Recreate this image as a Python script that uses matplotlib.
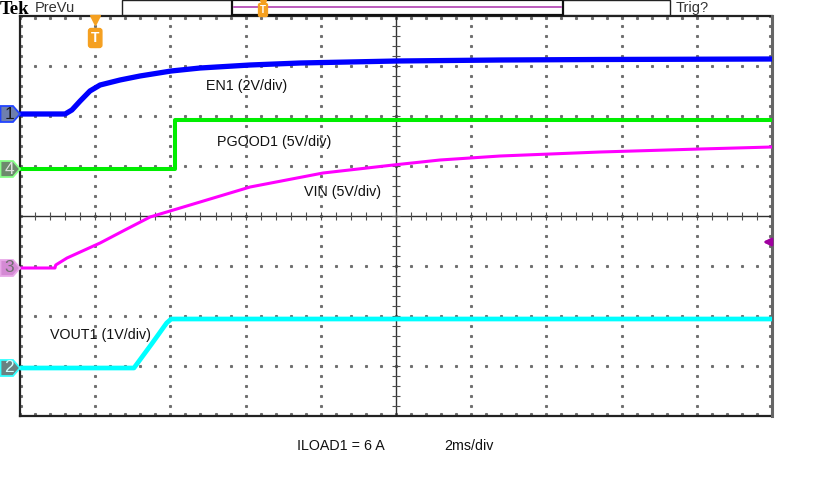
import numpy as np
import matplotlib.pyplot as plt
from matplotlib.patches import Rectangle, Polygon
from matplotlib.lines import Line2D

# 時間軸 (ms)、トリガは t=0
en1_t = [-2.0, -0.80, -0.62, -0.40, -0.14, 0.13, 0.66, 1.19, 2.02, 2.79, 4.12, 5.45, 8.03, 10.77, 13.43, 18.0]
en1_v = [0.0, 0.0, 0.16, 0.52, 0.92, 1.16, 1.36, 1.52, 1.72, 1.84, 1.96, 2.04, 2.12, 2.16, 2.18, 2.20]

pgood_t = [-2.0, 2.12, 2.12, 18.0]
pgood_v = [0.0, 0.0, 4.9, 4.9]

vin_t = [-2.0, -1.07, -1.05, -0.75, 0.13, 0.79, 1.46, 2.79, 4.12, 6.06, 7.93, 9.17, 10.77, 13.43, 16.09, 18.0]
vin_v = [0.0, 0.0, 0.3, 1.0, 2.5, 3.8, 5.1, 6.6, 8.1, 9.5, 10.3, 10.8, 11.2, 11.6, 11.9, 12.1]

vout_t = [-2.0, 1.03, 1.50, 1.90, 2.02, 18.0]
vout_v = [0.0, 0.0, 0.48, 0.90, 0.98, 0.98]

# チャンネル位置 (div) と V/div
ch_pos = {'1': 2.04, '4': 0.94, '3': -1.04, '2': -3.04}
ch_scale = {'1': 2.0, '4': 5.0, '3': 5.0, '2': 1.0}
trig_level = 2.6  # VIN

labels = ["EN1 (2V/div)", "PGOOD1 (5V/div)", "VIN (5V/div)", "VOUT1 (1V/div)"]
footer = ["ILOAD1 = 6 A", "2ms/div"]

W, H = 820, 504


def fx(x):
    return x / W


def fy(y):
    return 1 - y / H


fig = plt.figure(figsize=(8.2, 5.04), dpi=100)
font = 'Liberation Sans'

ax = fig.add_axes([fx(20), fy(416), 752 / W, 400 / H])
ax.set_xlim(-2, 18)
ax.set_ylim(-4, 4)
ax.axis('off')

# グラティクル
dot = dict(color='#707070', marker='s', markersize=1.2, linestyle='none')
ys = np.arange(-4, 4.01, 0.2)
xs = np.arange(-2, 18.01, 0.4)
for gx in np.arange(0, 17, 2):
    if gx != 8:
        ax.plot(np.full_like(ys, gx), ys, **dot)
for gy in [-3, -2, -1, 1, 2, 3]:
    ax.plot(xs, np.full_like(xs, gy), **dot)
# 枠の内側の目盛り
ax.plot(xs, np.full_like(xs, 3.96), **dot)
ax.plot(xs, np.full_like(xs, -3.96), **dot)
ax.plot(np.full_like(ys, -1.97), ys, **dot)
ax.plot(np.full_like(ys, 17.95), ys, **dot)

ax.axhline(0, color='#303030', lw=1.0)
ax.axvline(8, color='#303030', lw=1.0)
ax.plot(xs, np.zeros_like(xs), color='#505050', marker='|', markersize=6, linestyle='none', mew=0.8)
ax.plot(np.full_like(ys, 8), ys, color='#505050', marker='_', markersize=6, linestyle='none', mew=0.8)

ax.add_line(Line2D([-2, 18], [4, 4], color='#222222', lw=1.6, clip_on=False))
ax.add_line(Line2D([-2, 18], [-4, -4], color='#222222', lw=1.6, clip_on=False))
ax.add_line(Line2D([-2, -2], [-4, 4], color='#222222', lw=1.6, clip_on=False))
ax.add_line(Line2D([18, 18], [-4, 4], color='#666666', lw=2.2, clip_on=False))


def trace(t, v, ch, color, lw):
    y = ch_pos[ch] + np.array(v) / ch_scale[ch]
    ax.plot(t, y, color=color, lw=lw, solid_capstyle='butt', solid_joinstyle='round', clip_on=False)


trace(vin_t, vin_v, '3', '#ff00ff', 2.2)
trace(pgood_t, pgood_v, '4', '#00ee00', 2.9)
trace(vout_t, vout_v, '2', '#00ffff', 3.4)
trace(en1_t, en1_v, '1', '#0000ff', 3.8)

# チャンネルマーカー (左端の五角形)
markers = {
    '1': ('#6e7fae', '#2244ff', '#1a1a1a'),
    '4': ('#6d8a6d', '#88ff88', '#e0e0e0'),
    '3': ('#d48ad4', '#e8a8e8', '#707070'),
    '2': ('#6a8282', '#33ffff', '#d0ffff'),
}
to_fig = fig.transFigure.inverted()
for ch, (fc, ec, tc) in markers.items():
    px, py = ax.transData.transform((-2, ch_pos[ch]))
    pts = [(px - 19.5, py - 8), (px - 7, py - 8), (px, py), (px - 7, py + 8), (px - 19.5, py + 8)]
    fig.patches.append(Polygon(to_fig.transform(pts), closed=True, transform=fig.transFigure,
                               fc=fc, ec=ec, lw=1.3))
    cx, cy = to_fig.transform((px - 11, py))
    fig.text(cx, cy, ch, ha='center', va='center', fontsize=12.5, family=font, color=tc)

# トリガマーカー
ax.plot([0], [3.92], marker='v', color='#f5a020', markersize=7, clip_on=False)
ax.text(0, 3.56, 'T', ha='center', va='center', fontsize=10, color='white', fontweight='bold',
        family=font, bbox=dict(boxstyle='round,pad=0.18', fc='#f5a020', ec='#f5a020'))

# トリガレベル (VIN)
lvl = ch_pos['3'] + trig_level / ch_scale['3']
ax.annotate('', xy=(17.68, lvl), xytext=(18.0, lvl),
            arrowprops=dict(arrowstyle='-|>', color='#a000a0', lw=2, mutation_scale=11), annotation_clip=False)

# 注記
txt = dict(fontsize=10.3, family=font, va='center', color='#111111')
fig.text(fx(206), fy(86), labels[0], **txt)
fig.text(fx(217), fy(142), labels[1], **txt)
fig.text(fx(304), fy(192), labels[2], **txt)
fig.text(fx(50), fy(335), labels[3], **txt)
fig.text(fx(297), fy(446), footer[0], **txt)
fig.text(fx(444), fy(446), footer[1], **txt)

# ヘッダー
fig.text(fx(0), fy(1), 'Tek', fontsize=13.5, family='Liberation Serif', fontweight='bold', va='top')
fig.text(fx(35), fy(8), 'PreVu', fontsize=10.5, family=font, va='center', color='#333333')
fig.text(fx(676), fy(8), 'Trig?', fontsize=10.5, family=font, va='center', color='#333333')
fig.patches.append(Rectangle((fx(122), fy(15)), (670 - 122) / W, 15 / H, transform=fig.transFigure,
                             fc='white', ec='#222222', lw=1.0))
fig.patches.append(Rectangle((fx(232), fy(15)), (563 - 232) / W, 15 / H, transform=fig.transFigure,
                             fc='white', ec='#111111', lw=1.6))
fig.lines.append(Line2D([fx(234), fx(561)], [fy(7), fy(7)], transform=fig.transFigure, color='#b040b0', lw=1.2))
fig.lines.append(Line2D([fx(263)], [fy(3)], transform=fig.transFigure, marker='v', color='#f5a020', markersize=5))
fig.text(fx(263), fy(10), 'T', ha='center', va='center', fontsize=7, color='white', fontweight='bold', family=font,
         bbox=dict(boxstyle='round,pad=0.15', fc='#f5a020', ec='#f5a020'))

fig.savefig('out.png', dpi=100)
